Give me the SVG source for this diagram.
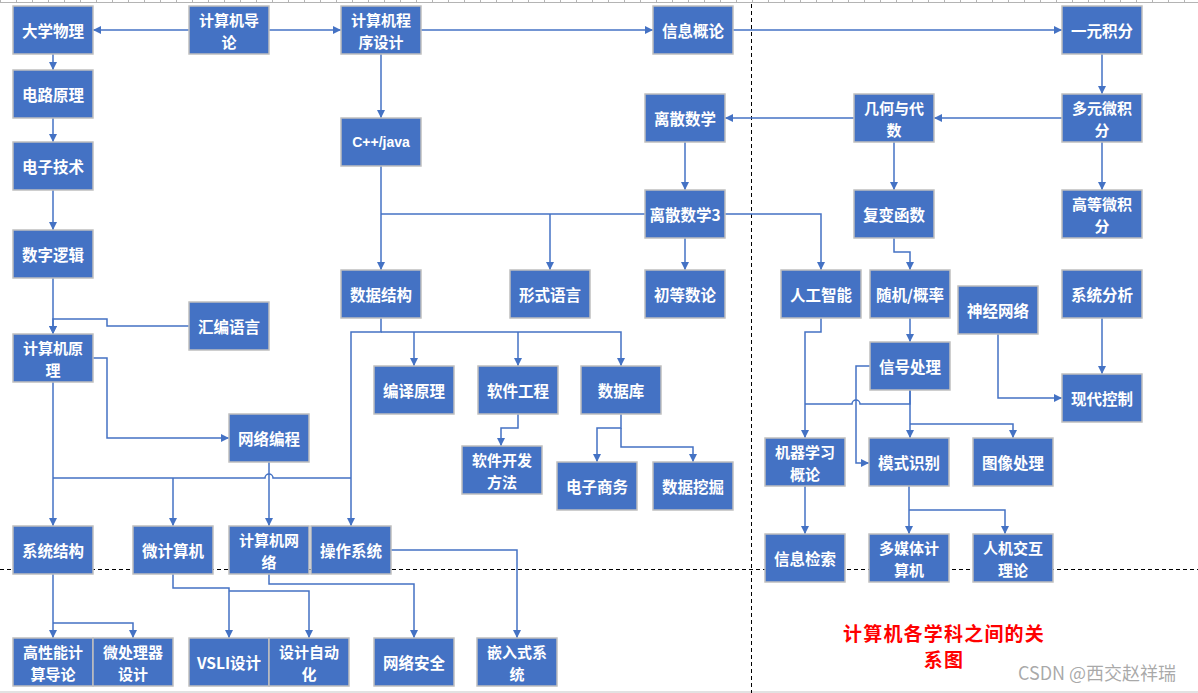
<svg xmlns="http://www.w3.org/2000/svg" width="1198" height="693" viewBox="0 0 1198 693">
  <style>
    .node rect { fill: #4472C4; stroke: #BFBFBF; stroke-width: 1.5; }
    .node text { fill: #FFFFFF; font-family: "Noto Sans CJK SC", "Liberation Sans", sans-serif; font-weight: bold; font-size: 15.5px; text-anchor: middle; dominant-baseline: central; }
    .node text.two { font-size: 15px; }
    .node text.latin { font-family: "Liberation Sans", "Noto Sans CJK SC", sans-serif; font-size: 14px; }
    .conn path { fill: none; stroke: #4472C4; stroke-width: 1.5; }
    .guide { stroke: #000000; stroke-width: 1; stroke-dasharray: 4 3; }
  </style>
  <defs>
    <marker id="arr" viewBox="0 0 10 10" refX="10" refY="5" markerWidth="8" markerHeight="8" markerUnits="userSpaceOnUse" orient="auto">
      <path d="M0,0 L10,5 L0,10 z" fill="#4472C4"/>
    </marker>
  </defs>

  <rect x="0" y="0" width="1198" height="693" fill="#FFFFFF"/>

  <!-- ruler strip and page edge -->
  <line x1="0" y1="2.5" x2="1198" y2="2.5" stroke="#B4B4B4" stroke-width="1"/>
  <line x1="0" y1="1" x2="1198" y2="1" stroke="#B4B4B4" stroke-width="2" stroke-dasharray="1 15"/>
  <line x1="0" y1="692" x2="1198" y2="692" stroke="#D9D9D9" stroke-width="1.5"/>

  <!-- page guides -->
  <line class="guide" x1="0" y1="569.5" x2="1198" y2="569.5"/>
  <line class="guide" x1="751.5" y1="4" x2="751.5" y2="693"/>

  <g id="connectors" class="conn">
    <path d="M189,30 H93" marker-end="url(#arr)"/>
    <path d="M269,30 H341" marker-end="url(#arr)"/>
    <path d="M421,30 H653" marker-end="url(#arr)"/>
    <path d="M733,30 H1062" marker-end="url(#arr)"/>
    <path d="M53,54 V70" marker-end="url(#arr)"/>
    <path d="M53,118 V142" marker-end="url(#arr)"/>
    <path d="M53,190 V230" marker-end="url(#arr)"/>
    <path d="M53,278 V334" marker-end="url(#arr)"/>
    <path d="M189,326 H107 V319 H53 V334" marker-end="url(#arr)"/>
    <path d="M1102,54 V94" marker-end="url(#arr)"/>
    <path d="M1062,118 H934" marker-end="url(#arr)"/>
    <path d="M1102,142 V190" marker-end="url(#arr)"/>
    <path d="M854,118 H725" marker-end="url(#arr)"/>
    <path d="M894,142 V190" marker-end="url(#arr)"/>
    <path d="M381,54 V118" marker-end="url(#arr)"/>
    <path d="M685,142 V190" marker-end="url(#arr)"/>
    <path d="M381,166 V270" marker-end="url(#arr)"/>
    <path d="M645,214 H381"/>
    <path d="M550,214 V270" marker-end="url(#arr)"/>
    <path d="M685,238 V270" marker-end="url(#arr)"/>
    <path d="M725,214 H821 V270" marker-end="url(#arr)"/>
    <path d="M894,238 V252 H910 V270" marker-end="url(#arr)"/>
    <path d="M910,318 V342" marker-end="url(#arr)"/>
    <path d="M821,318 V332 H805 V438" marker-end="url(#arr)"/>
    <path d="M870,366 H856 V463 H869" marker-end="url(#arr)"/>
    <path d="M910,390 V404 H860 a4,4 0 0 0 -8,0 H805"/>
    <path d="M910,390 V438" marker-end="url(#arr)"/>
    <path d="M910,424 H1013 V438" marker-end="url(#arr)"/>
    <path d="M998,334 V398 H1062" marker-end="url(#arr)"/>
    <path d="M1102,318 V374" marker-end="url(#arr)"/>
    <path d="M805,486 V534" marker-end="url(#arr)"/>
    <path d="M909,486 V534" marker-end="url(#arr)"/>
    <path d="M909,510 H1005 V534" marker-end="url(#arr)"/>
    <path d="M381,318 V332 H351 V526" marker-end="url(#arr)"/>
    <path d="M381,332 H621 V366" marker-end="url(#arr)"/>
    <path d="M414,332 V366" marker-end="url(#arr)"/>
    <path d="M518,332 V366" marker-end="url(#arr)"/>
    <path d="M518,414 V428 H501 V446" marker-end="url(#arr)"/>
    <path d="M621,414 V428 H597 V462" marker-end="url(#arr)"/>
    <path d="M621,428 V447 H693 V462" marker-end="url(#arr)"/>
    <path d="M93,358 H107 V438 H229" marker-end="url(#arr)"/>
    <path d="M53,382 V526" marker-end="url(#arr)"/>
    <path d="M53,478 H265 a4,4 0 0 1 8,0 H351"/>
    <path d="M173,478 V526" marker-end="url(#arr)"/>
    <path d="M269,462 V526" marker-end="url(#arr)"/>
    <path d="M53,574 V638" marker-end="url(#arr)"/>
    <path d="M53,623 H133 V638" marker-end="url(#arr)"/>
    <path d="M173,574 V588 H229 V638" marker-end="url(#arr)"/>
    <path d="M229,591 H309 V638" marker-end="url(#arr)"/>
    <path d="M269,574 V584 H414 V638" marker-end="url(#arr)"/>
    <path d="M391,550 H517 V638" marker-end="url(#arr)"/>
  </g>

  <g id="n-daxuewuli" class="node" transform="translate(13,6)"><rect width="80" height="48"/><text x="40" y="24">大学物理</text></g>
  <g id="n-jisuanjidaolun" class="node" transform="translate(189,6)"><rect width="80" height="48"/><text class="two" x="40"><tspan x="40" y="12.5">计算机导</tspan><tspan x="40" y="34.5">论</tspan></text></g>
  <g id="n-chengxusheji" class="node" transform="translate(341,6)"><rect width="80" height="48"/><text class="two" x="40"><tspan x="40" y="12.5">计算机程</tspan><tspan x="40" y="34.5">序设计</tspan></text></g>
  <g id="n-xinxigailun" class="node" transform="translate(653,6)"><rect width="80" height="48"/><text x="40" y="24">信息概论</text></g>
  <g id="n-yuanjifen" class="node" transform="translate(1062,6)"><rect width="80" height="48"/><text x="40" y="24">一元积分</text></g>
  <g id="n-dianluyuanli" class="node" transform="translate(13,70)"><rect width="80" height="48"/><text x="40" y="24">电路原理</text></g>
  <g id="n-cpp-java" class="node" transform="translate(341,118)"><rect width="80" height="48"/><text class="latin" x="40" y="24">C++/java</text></g>
  <g id="n-lisanshuxue" class="node" transform="translate(645,94)"><rect width="80" height="48"/><text x="40" y="24">离散数学</text></g>
  <g id="n-jihedaishu" class="node" transform="translate(854,94)"><rect width="80" height="48"/><text class="two" x="40"><tspan x="40" y="12.5">几何与代</tspan><tspan x="40" y="34.5">数</tspan></text></g>
  <g id="n-duoyuanweijifen" class="node" transform="translate(1062,94)"><rect width="80" height="48"/><text class="two" x="40"><tspan x="40" y="12.5">多元微积</tspan><tspan x="40" y="34.5">分</tspan></text></g>
  <g id="n-dianzijishu" class="node" transform="translate(13,142)"><rect width="80" height="48"/><text x="40" y="24">电子技术</text></g>
  <g id="n-lisanshuxue3" class="node" transform="translate(645,190)"><rect width="80" height="48"/><text x="40" y="24">离散数学3</text></g>
  <g id="n-fubianhanshu" class="node" transform="translate(854,190)"><rect width="80" height="48"/><text x="40" y="24">复变函数</text></g>
  <g id="n-gaodengweijifen" class="node" transform="translate(1062,190)"><rect width="80" height="48"/><text class="two" x="40"><tspan x="40" y="12.5">高等微积</tspan><tspan x="40" y="34.5">分</tspan></text></g>
  <g id="n-shuziluoji" class="node" transform="translate(13,230)"><rect width="80" height="48"/><text x="40" y="24">数字逻辑</text></g>
  <g id="n-shujujiegou" class="node" transform="translate(341,270)"><rect width="80" height="48"/><text x="40" y="24">数据结构</text></g>
  <g id="n-xingshiyuyan" class="node" transform="translate(510,270)"><rect width="80" height="48"/><text x="40" y="24">形式语言</text></g>
  <g id="n-chudengshulun" class="node" transform="translate(645,270)"><rect width="80" height="48"/><text x="40" y="24">初等数论</text></g>
  <g id="n-rengongzhineng" class="node" transform="translate(781,270)"><rect width="80" height="48"/><text x="40" y="24">人工智能</text></g>
  <g id="n-suiji-gailv" class="node" transform="translate(870,270)"><rect width="80" height="48"/><text x="40" y="24">随机/概率</text></g>
  <g id="n-xitongfenxi" class="node" transform="translate(1062,270)"><rect width="80" height="48"/><text x="40" y="24">系统分析</text></g>
  <g id="n-shenjingwangluo" class="node" transform="translate(958,286)"><rect width="80" height="48"/><text x="40" y="24">神经网络</text></g>
  <g id="n-huibianyuyan" class="node" transform="translate(189,302)"><rect width="80" height="48"/><text x="40" y="24">汇编语言</text></g>
  <g id="n-jisuanjiyuanli" class="node" transform="translate(13,334)"><rect width="80" height="48"/><text class="two" x="40"><tspan x="40" y="12.5">计算机原</tspan><tspan x="40" y="34.5">理</tspan></text></g>
  <g id="n-xinhaochuli" class="node" transform="translate(870,342)"><rect width="80" height="48"/><text x="40" y="24">信号处理</text></g>
  <g id="n-bianyiyuanli" class="node" transform="translate(374,366)"><rect width="80" height="48"/><text x="40" y="24">编译原理</text></g>
  <g id="n-ruanjiangongcheng" class="node" transform="translate(478,366)"><rect width="80" height="48"/><text x="40" y="24">软件工程</text></g>
  <g id="n-shujuku" class="node" transform="translate(581,366)"><rect width="80" height="48"/><text x="40" y="24">数据库</text></g>
  <g id="n-xiandaikongzhi" class="node" transform="translate(1062,374)"><rect width="80" height="48"/><text x="40" y="24">现代控制</text></g>
  <g id="n-wangluobiancheng" class="node" transform="translate(229,414)"><rect width="80" height="48"/><text x="40" y="24">网络编程</text></g>
  <g id="n-jiqixuexi" class="node" transform="translate(765,438)"><rect width="80" height="48"/><text class="two" x="40"><tspan x="40" y="12.5">机器学习</tspan><tspan x="40" y="34.5">概论</tspan></text></g>
  <g id="n-moshishibie" class="node" transform="translate(869,438)"><rect width="80" height="48"/><text x="40" y="24">模式识别</text></g>
  <g id="n-tuxiangchuli" class="node" transform="translate(973,438)"><rect width="80" height="48"/><text x="40" y="24">图像处理</text></g>
  <g id="n-ruanjiankaifa" class="node" transform="translate(462,446)"><rect width="80" height="48"/><text class="two" x="40"><tspan x="40" y="12.5">软件开发</tspan><tspan x="40" y="34.5">方法</tspan></text></g>
  <g id="n-dianzishangwu" class="node" transform="translate(557,462)"><rect width="80" height="48"/><text x="40" y="24">电子商务</text></g>
  <g id="n-shujuwajue" class="node" transform="translate(653,462)"><rect width="80" height="48"/><text x="40" y="24">数据挖掘</text></g>
  <g id="n-xitongjiegou" class="node" transform="translate(13,526)"><rect width="80" height="48"/><text x="40" y="24">系统结构</text></g>
  <g id="n-weijisuanji" class="node" transform="translate(133,526)"><rect width="80" height="48"/><text x="40" y="24">微计算机</text></g>
  <g id="n-jisuanjiwangluo" class="node" transform="translate(229,526)"><rect width="80" height="48"/><text class="two" x="40"><tspan x="40" y="12.5">计算机网</tspan><tspan x="40" y="34.5">络</tspan></text></g>
  <g id="n-caozuoxitong" class="node" transform="translate(311,526)"><rect width="80" height="48"/><text x="40" y="24">操作系统</text></g>
  <g id="n-xinxijiansuo" class="node" transform="translate(765,534)"><rect width="80" height="48"/><text x="40" y="24">信息检索</text></g>
  <g id="n-duomeiti" class="node" transform="translate(869,534)"><rect width="80" height="48"/><text class="two" x="40"><tspan x="40" y="12.5">多媒体计</tspan><tspan x="40" y="34.5">算机</tspan></text></g>
  <g id="n-renjijiaohu" class="node" transform="translate(973,534)"><rect width="80" height="48"/><text class="two" x="40"><tspan x="40" y="12.5">人机交互</tspan><tspan x="40" y="34.5">理论</tspan></text></g>
  <g id="n-gaoxingneng" class="node" transform="translate(13,638)"><rect width="80" height="48"/><text class="two" x="40"><tspan x="40" y="12.5">高性能计</tspan><tspan x="40" y="34.5">算导论</tspan></text></g>
  <g id="n-weichuliqi" class="node" transform="translate(93,638)"><rect width="80" height="48"/><text class="two" x="40"><tspan x="40" y="12.5">微处理器</tspan><tspan x="40" y="34.5">设计</tspan></text></g>
  <g id="n-vsli" class="node" transform="translate(189,638)"><rect width="80" height="48"/><text x="40" y="24">VSLI设计</text></g>
  <g id="n-shejizidonghua" class="node" transform="translate(269,638)"><rect width="80" height="48"/><text class="two" x="40"><tspan x="40" y="12.5">设计自动</tspan><tspan x="40" y="34.5">化</tspan></text></g>
  <g id="n-wangluoanquan" class="node" transform="translate(374,638)"><rect width="80" height="48"/><text x="40" y="24">网络安全</text></g>
  <g id="n-qianrushi" class="node" transform="translate(477,638)"><rect width="80" height="48"/><text class="two" x="40"><tspan x="40" y="12.5">嵌入式系</tspan><tspan x="40" y="34.5">统</tspan></text></g>

  <!-- caption -->
  <g id="caption" font-family="Noto Sans CJK SC, Liberation Sans, sans-serif" font-weight="bold" fill="#FF0000" font-size="19" text-anchor="middle">
    <text x="944" y="641" letter-spacing="1.2">计算机各学科之间的关</text>
    <text x="944" y="667" letter-spacing="1.2">系图</text>
  </g>
  <text x="1097" y="680" font-family="Noto Sans CJK SC, Liberation Sans, sans-serif" font-size="18" fill="#9A9A9A" fill-opacity="0.85" text-anchor="middle">CSDN @西交赵祥瑞</text>
</svg>
